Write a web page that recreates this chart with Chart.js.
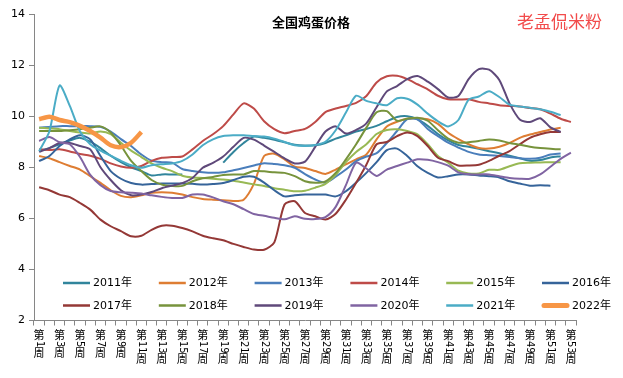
<!DOCTYPE html>
<html>
<head>
<meta charset="utf-8">
<script src="https://cdn.jsdelivr.net/npm/chart.js@4.4.1/dist/chart.umd.min.js"></script>
<style>
  html, body { margin: 0; padding: 0; background: #fff; }
  canvas { display: block; }
</style>
</head>
<body>
<canvas id="eggChart" width="623" height="378"></canvas>
<script>
// 全国鸡蛋价格 (元/公斤), weekly, 2011-2022
const weekLabels = [
  "第1周", "第2周", "第3周", "第4周", "第5周", "第6周", "第7周", "第8周", "第9周", "第10周",
  "第11周", "第12周", "第13周", "第14周", "第15周", "第16周", "第17周", "第18周", "第19周", "第20周",
  "第21周", "第22周", "第23周", "第24周", "第25周", "第26周", "第27周", "第28周", "第29周", "第30周",
  "第31周", "第32周", "第33周", "第34周", "第35周", "第36周", "第37周", "第38周", "第39周", "第40周",
  "第41周", "第42周", "第43周", "第44周", "第45周", "第46周", "第47周", "第48周", "第49周", "第50周",
  "第51周", "第52周", "第53周"
];
const years = ["2011年", "2012年", "2013年", "2014年", "2015年", "2016年",
               "2017年", "2018年", "2019年", "2020年", "2021年", "2022年"];
const yTicks = [2, 4, 6, 8, 10, 12, 14];

const price2011 = [8.65, 8.75, 8.9, 9.05, 9.15, 9.0, 8.75, 8.45, 8.2, 8.0, 7.85, 7.68, 7.72, 7.72, 7.72, null, null, null, 8.18, 8.6, 8.95, 9.2, 9.15, 9.08, 8.98, 8.88, 8.85, 8.86, 8.95, 9.12, 9.25, 9.4, 9.5, 9.62, 9.8, 9.97, 10.0, 9.88, 9.62, 9.3, 9.05, 8.87, 8.8, 8.72, 8.63, 8.55, 8.45, 8.35, 8.25, 8.28, 8.38, 8.43, null];
const price2012 = [8.44, 8.35, 8.2, 8.05, 7.91, 7.65, 7.39, 7.1, 6.88, 6.83, 6.9, 7.0, 7.02, 7.0, 6.93, 6.83, 6.76, 6.73, 6.71, 6.68, 6.73, 7.35, 8.44, 8.53, 8.31, 8.02, 7.97, 7.85, 7.74, 7.91, 8.11, 8.31, 8.5, 9.09, 9.6, 9.78, 9.9, 9.92, 9.88, 9.7, 9.35, 9.1, 8.9, 8.75, 8.73, 8.8, 8.95, 9.15, 9.28, 9.38, 9.48, 9.55, null];
const price2013 = [9.55, 9.58, 9.61, 9.61, 9.61, 9.61, 9.58, 9.4, 9.1, 8.83, 8.5, 8.26, 8.2, 8.18, 7.93, 7.85, 7.8, 7.78, 7.8, 7.88, 7.97, 8.07, 8.16, 8.13, 8.08, 7.98, 7.73, 7.52, 7.4, 7.63, 7.91, 8.24, 8.42, 8.55, 8.95, 9.42, 9.88, 9.88, 9.5, 9.22, 8.96, 8.77, 8.6, 8.5, 8.47, 8.44, 8.4, 8.35, 8.33, 8.37, 8.5, 8.54, null];
const price2014 = [8.7, 8.68, 8.7, 8.62, 8.52, 8.45, 8.33, 8.15, 8.03, 7.98, 8.05, 8.25, 8.37, 8.4, 8.42, 8.7, 9.03, 9.29, 9.61, 10.07, 10.5, 10.3, 9.8, 9.49, 9.33, 9.42, 9.5, 9.77, 10.16, 10.3, 10.4, 10.52, 10.79, 11.32, 11.56, 11.58, 11.45, 11.25, 11.05, 10.8, 10.66, 10.65, 10.66, 10.56, 10.5, 10.43, 10.4, 10.38, 10.32, 10.27, 10.1, 9.9, 9.77];
const price2015 = [9.55, 9.52, 9.49, 9.42, 9.36, 9.32, 9.4, 9.3, 8.96, 8.65, 8.4, 8.15, 7.98, 7.85, 7.67, 7.6, 7.58, 7.55, 7.52, 7.47, 7.4, 7.33, 7.27, 7.18, 7.12, 7.06, 7.08, 7.2, 7.35, 7.7, 8.2, 8.6, 8.9, 9.3, 9.46, 9.49, 9.42, 9.29, 8.9, 8.44, 8.18, 7.87, 7.76, 7.76, 7.9, 7.9, 8.04, 8.16, 8.18, 8.19, 8.2, 8.2, null];
const price2016 = [8.24, 8.44, 8.83, 9.09, 9.25, 9.09, 8.44, 7.85, 7.55, 7.38, 7.32, 7.34, 7.36, 7.36, 7.36, 7.35, 7.32, 7.34, 7.38, 7.5, 7.63, 7.63, 7.4, 7.1, 6.86, 6.9, 6.93, 6.93, 6.93, 6.86, 7.06, 7.4, 7.78, 8.2, 8.67, 8.73, 8.44, 8.04, 7.78, 7.6, 7.65, 7.72, 7.72, 7.68, 7.65, 7.6, 7.45, 7.36, 7.28, 7.3, 7.28, null, null];
const price2017 = [7.22, 7.1, 6.93, 6.83, 6.6, 6.34, 5.95, 5.69, 5.5, 5.3, 5.32, 5.55, 5.71, 5.71, 5.62, 5.49, 5.32, 5.22, 5.14, 5.0, 4.88, 4.78, 4.77, 5.06, 6.54, 6.67, 6.21, 6.08, 5.95, 6.18, 6.73, 7.39, 8.1, 8.9, 8.99, 9.22, 9.36, 9.22, 8.83, 8.37, 8.24, 8.07, 8.07, 8.1, 8.25, 8.45, 8.63, 8.9, 9.15, 9.29, 9.38, 9.38, null];
const price2018 = [9.42, 9.42, 9.42, 9.45, 9.49, 9.55, 9.6, 9.36, 8.85, 8.25, 7.85, 7.5, 7.32, 7.27, 7.27, 7.45, 7.57, 7.62, 7.7, 7.72, 7.72, 7.85, 7.84, 7.8, 7.78, 7.65, 7.45, 7.39, 7.45, 7.78, 8.31, 8.9, 9.55, 10.15, 10.2, 9.82, 9.9, 9.94, 9.82, 9.45, 9.12, 8.96, 8.98, 9.03, 9.09, 9.05, 8.95, 8.88, 8.8, 8.75, 8.72, 8.7, null];
const price2019 = [8.6, 8.75, 8.95, 8.95, 8.83, 8.7, 8.0, 7.5, 7.1, 6.9, 6.93, 7.03, 7.18, 7.28, 7.38, 7.58, 7.98, 8.17, 8.42, 8.8, 9.15, 9.08, 8.85, 8.6, 8.35, 8.15, 8.22, 8.8, 9.4, 9.6, 9.32, 9.46, 9.72, 10.35, 10.97, 11.18, 11.45, 11.57, 11.35, 11.06, 10.73, 10.79, 11.45, 11.84, 11.82, 11.42, 10.5, 9.87, 9.77, 9.92, 9.56, 9.38, null];
const price2020 = [9.03, 9.18, 8.98, 8.9, 8.4, 7.7, 7.3, 7.07, 7.02, 7.0, 6.97, 6.9, 6.84, 6.8, 6.8, 6.93, 6.93, 6.82, 6.67, 6.55, 6.36, 6.17, 6.1, 6.02, 5.96, 6.08, 5.98, 5.97, 6.05, 6.45, 7.3, 8.18, 7.95, 7.66, 7.91, 8.05, 8.18, 8.31, 8.29, 8.2, 8.06, 7.8, 7.73, 7.72, 7.72, 7.65, 7.58, 7.55, 7.55, 7.72, 8.02, 8.33, 8.57];
const price2021 = [8.63, 9.4, 11.2, 10.4, 9.4, 8.9, 8.65, 8.45, 8.25, 8.08, 7.98, 8.08, 8.12, 8.15, 8.25, 8.5, 8.86, 9.09, 9.22, 9.25, 9.25, 9.22, 9.2, 9.12, 8.99, 8.86, 8.83, 8.87, 9.0, 9.45, 10.14, 10.8, 10.6, 10.5, 10.43, 10.7, 10.68, 10.45, 10.1, 9.8, 9.6, 9.85, 10.65, 10.77, 10.98, 10.75, 10.45, 10.38, 10.33, 10.27, 10.17, 10.04, null];
const price2022 = [9.88, 9.98, 9.85, 9.77, 9.62, 9.42, 9.16, 8.86, 8.79, 8.96, 9.38];

const seriesValues = [price2011, price2012, price2013, price2014, price2015, price2016,
                      price2017, price2018, price2019, price2020, price2021, price2022];

// styles
const lineColors = ["#31859C", "#DE7D33", "#4A7EBB", "#BE4B48", "#98B954", "#36649A",
                    "#943836", "#77933C", "#5F497A", "#8064A2", "#4BACC6", "#F79646"];
const lineWidths = [2, 2, 2, 2, 2, 2, 2, 2, 2, 2, 2, 4.5];

const axisGray = "#868686";
const cjk = "'Noto Sans CJK SC'";
const latin = "'DejaVu Sans', 'Noto Sans CJK SC'";

// title, watermark, legend and vertical week labels drawn on top
const overlayPlugin = {
  id: "overlay",
  afterDraw(chart) {
    const ctx = chart.ctx;
    const xs = chart.scales.x;
    ctx.save();

    // title
    ctx.fillStyle = "#000";
    ctx.font = "bold 13px " + cjk;
    ctx.textAlign = "center";
    ctx.textBaseline = "middle";
    ctx.fillText("全国鸡蛋价格", 311, 22);

    // watermark
    ctx.fillStyle = "#F24B4B";
    ctx.font = "17px " + cjk;
    ctx.textAlign = "left";
    ctx.fillText("老孟侃米粉", 517, 22);

    // legend, 6 columns x 2 rows inside the plot
    ctx.font = "11px " + latin;
    ctx.textBaseline = "middle";
    chart.data.datasets.forEach((ds, i) => {
      const col = i % 6;
      const row = Math.floor(i / 6);
      const lx = 63 + col * 95.8;
      const ly = 283 + row * 22.5;
      ctx.strokeStyle = ds.borderColor;
      ctx.lineWidth = i === 11 ? 5 : 2.5;
      ctx.lineCap = i === 11 ? "round" : "butt";
      ctx.beginPath();
      ctx.moveTo(lx + (i === 11 ? 2 : 0), ly);
      ctx.lineTo(lx + 27 - (i === 11 ? 2 : 0), ly);
      ctx.stroke();
      ctx.fillStyle = "#000";
      ctx.textAlign = "left";
      ctx.fillText(ds.label, lx + 30, ly + 0.5);
    });

    // x labels: 第 / rotated number / 周, every other week
    ctx.fillStyle = "#000";
    weekLabels.forEach((lab, i) => {
      if (i % 2 !== 0) return;
      const cx = xs.getPixelForValue(i);
      const num = lab.slice(1, -1);
      let y = 330;
      ctx.font = "11px " + cjk;
      ctx.textAlign = "center";
      ctx.textBaseline = "top";
      ctx.fillText("第", cx, y - 1);
      y += 11;
      ctx.font = "10px " + latin;
      const w = ctx.measureText(num).width;
      ctx.save();
      ctx.translate(cx, y);
      ctx.rotate(Math.PI / 2);
      ctx.textAlign = "left";
      ctx.textBaseline = "middle";
      ctx.fillText(num, 0, 0);
      ctx.restore();
      y += w + 1;
      ctx.font = "11px " + cjk;
      ctx.textAlign = "center";
      ctx.textBaseline = "top";
      ctx.fillText("周", cx, y - 1);
    });

    ctx.restore();
  }
};

const datasets = years.map((name, i) => ({
  label: name,
  data: seriesValues[i],
  borderColor: lineColors[i],
  backgroundColor: lineColors[i],
  borderWidth: lineWidths[i],
  pointRadius: 0,
  pointHoverRadius: 0,
  tension: 0.25,
  spanGaps: false,
  fill: false,
  order: years.length - i
}));

new Chart(document.getElementById("eggChart").getContext("2d"), {
  type: "line",
  data: { labels: weekLabels, datasets: datasets },
  options: {
    responsive: false,
    animation: false,
    layout: { padding: { top: 14, right: 47, bottom: 0, left: 0 } },
    plugins: {
      legend: { display: false },
      title: { display: false },
      tooltip: { enabled: false }
    },
    scales: {
      x: {
        offset: true,
        grid: {
          display: true,
          offset: true,
          drawOnChartArea: false,
          drawTicks: true,
          tickLength: 5,
          color: axisGray
        },
        border: { display: true, color: axisGray, width: 1 },
        ticks: { display: false },
        afterFit(scale) { scale.height = 57.5; }
      },
      y: {
        min: 2,
        max: 14,
        afterBuildTicks(scale) { scale.ticks = yTicks.map(v => ({ value: v })); },
        grid: {
          display: true,
          drawOnChartArea: false,
          drawTicks: true,
          tickLength: 5,
          color: axisGray
        },
        border: { display: true, color: axisGray, width: 1 },
        ticks: {
          color: "#000",
          padding: 4,
          font: { family: "DejaVu Sans", size: 11 }
        },
        afterFit(scale) { scale.width = 34; }
      }
    }
  },
  plugins: [overlayPlugin]
});
</script>
</body>
</html>
